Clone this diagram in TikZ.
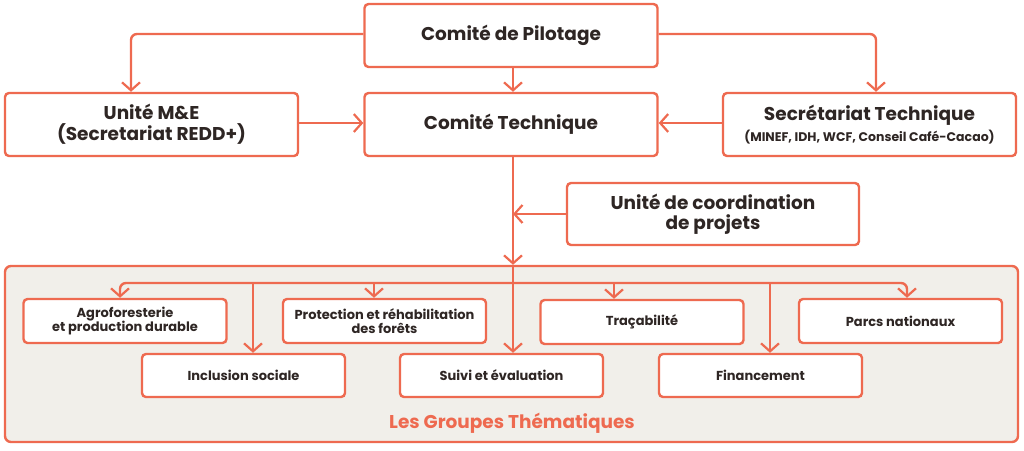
\documentclass[tikz,border=0pt]{standalone}
\usepackage{fontspec}
\setmainfont{Poppins}
\usetikzlibrary{arrows.meta,calc}
\definecolor{orng}{HTML}{EE6A50}
\definecolor{bgbox}{HTML}{F1EFEA}
\definecolor{txt}{HTML}{2E2624}
\tikzset{
  box/.style={draw=orng, line width=2.4pt, rounded corners=4pt, fill=white, text=txt,
    font=\bfseries, align=center, inner sep=0pt},
  bigbox/.style={box, minimum width=293pt, minimum height=63pt, font=\bfseries\fontsize{18.5}{20}\selectfont},
  smallbox/.style={box, minimum width=203pt, minimum height=44pt, font=\bfseries\fontsize{13}{14.5}\selectfont},
  conn/.style={draw=orng, line width=2.4pt},
  arr/.style={conn, -{Straight Barb[length=8pt,width=18pt,line width=2.2pt]}},
}
\begin{document}
\begin{tikzpicture}[x=1pt,y=-1pt]
\useasboundingbox (0,0) rectangle (1024,450);
% thematic group background
\node[draw=orng, line width=2.4pt, rounded corners=6pt, fill=bgbox, minimum width=1013pt, minimum height=176pt, inner sep=0pt] (grp) at (511.5,354) {};
\node[text=orng, font=\bfseries\fontsize{18.5}{20}\selectfont] (grplabel) at (512,423.5) {Les Groupes Thématiques};

\node[bigbox] (pil) at (511,35.5) {Comité de Pilotage};
\node[bigbox] (tech) at (511,124.5) {Comité Technique};
\node[bigbox] (me) at (151.5,124.5) {Unité M\&E\\[1pt](Secretariat REDD+)};
\node[bigbox] (sec) at (869.5,124.5) {Secrétariat Technique\\[1pt]{\fontsize{12.5}{14}\selectfont(MINEF, IDH, WCF, Conseil Café-Cacao)}};
\node[bigbox, minimum width=292pt, minimum height=62pt] (coord) at (713,214) {Unité de coordination\\de projets};

\node[smallbox] (agro) at (125,321) {Agroforesterie\\et production durable};
\node[smallbox] (prot) at (384.5,321) {Protection et réhabilitation\\des forêts};
\node[smallbox] (trac) at (642,322) {Traçabilité};
\node[smallbox] (parcs) at (900.5,321) {Parcs nationaux};
\node[smallbox, minimum height=43pt] (incl) at (243.5,375.5) {Inclusion sociale};
\node[smallbox, minimum height=43pt] (suivi) at (501.5,375.5) {Suivi et évaluation};
\node[smallbox, minimum height=43pt] (fin) at (760.5,375.5) {Financement};

\coordinate (trunk) at ([xshift=2pt]tech.south);
\coordinate (bus) at (513,283);

% top connectors
\draw[arr, rounded corners=6pt] ([yshift=1.5pt]pil.west) -| ([xshift=-20.5pt]me.north);
\draw[arr, rounded corners=6pt] ([yshift=1.5pt]pil.east) -| ([xshift=6.5pt]sec.north);
\draw[arr] ([xshift=2pt]pil.south) -- ([xshift=2pt]tech.north);
\draw[arr] ([yshift=1.5pt]me.east) -- ([yshift=1.5pt]me.east -| tech.west);
\draw[arr] ([yshift=1.5pt]sec.west) -- ([yshift=1.5pt]sec.west -| tech.east);
\draw[arr] (trunk) -- (trunk |- grp.north);
\draw[arr] (coord.west) -- (coord.west -| trunk);

% bus inside the group
\draw[conn] (trunk |- grp.north) -- (bus);
\draw[arr, rounded corners=6pt] (bus) -| ([xshift=-5pt]agro.north);
\draw[arr, rounded corners=6pt] (bus) -| ([xshift=6.5pt]parcs.north);
\draw[arr] (bus) -- (bus |- suivi.north);
\draw[arr] ([xshift=9.5pt]incl.north |- bus) -- ([xshift=9.5pt]incl.north);
\draw[arr] ([xshift=-10.5pt]prot.north |- bus) -- ([xshift=-10.5pt]prot.north);
\draw[arr] ([xshift=-28pt]trac.north |- bus) -- ([xshift=-28pt]trac.north);
\draw[arr] ([xshift=9.5pt]fin.north |- bus) -- ([xshift=9.5pt]fin.north);
\end{tikzpicture}
\end{document}
